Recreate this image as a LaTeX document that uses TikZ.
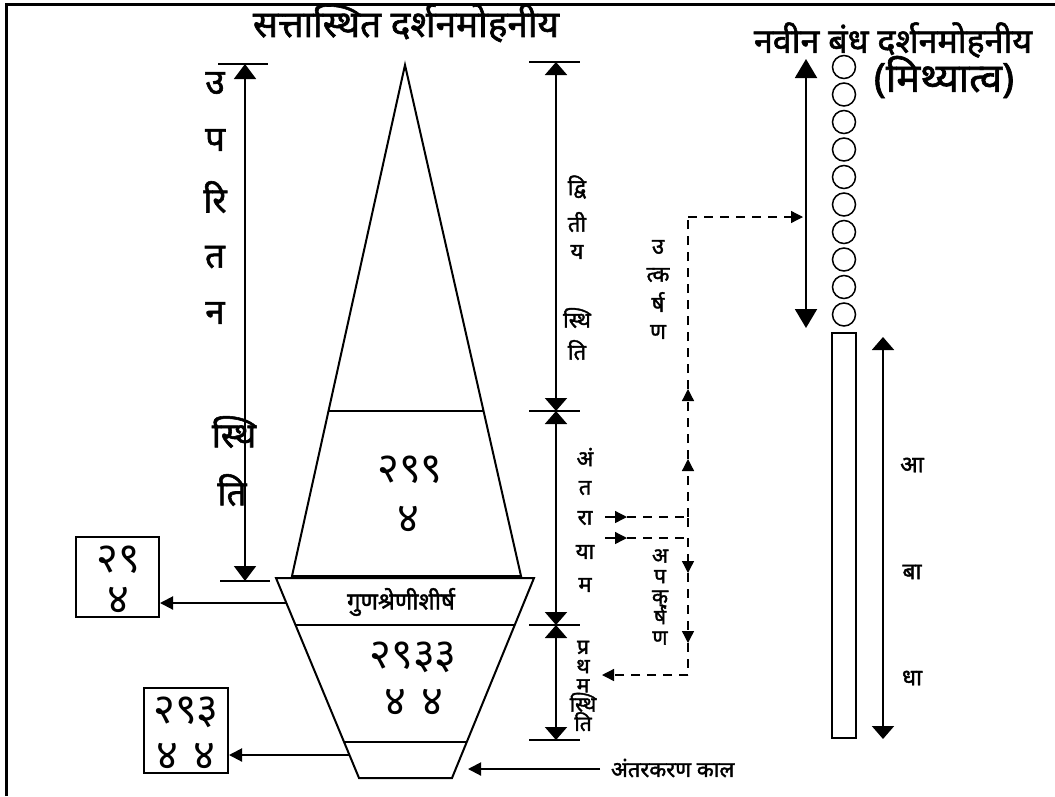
\documentclass[tikz,border=0pt]{standalone}
\usepackage{fontspec}
\newfontfamily\dev[Script=Devanagari]{Noto Sans}
\newfontfamily\devb[Script=Devanagari,FakeBold=1.6]{Noto Sans}
\newcommand\tightlines{\lineskiplimit=-100pt\relax\lineskip=0pt\relax}
\usetikzlibrary{arrows.meta,calc}
\tikzset{
  every node/.style={inner sep=0pt, font=\dev},
  dimtips/.style={{Triangle[width=22pt,length=13pt]}-{Triangle[width=22pt,length=13pt]}},
  bigtips/.style={{Triangle[width=22pt,length=19pt]}-{Triangle[width=22pt,length=19pt]}},
  smalltip/.style={-{Triangle[width=12pt,length=12pt]}},
  dsh/.style={line width=1.3pt, dash pattern=on 9pt off 7pt},
  thin1/.style={line width=1.3pt},
  bigletter/.style={font=\devb\fontsize{35}{38}\selectfont},
  midletter/.style={font=\devb\fontsize{22}{24}\selectfont},
  numtext/.style={font=\dev\fontsize{42}{46}\selectfont},
  boxnode/.style={draw, line width=2pt},
}
\begin{document}
\begin{tikzpicture}[x=1pt,y=-1pt,line width=2pt]
\useasboundingbox (0,0) rectangle (1055,796);
% frame
\draw[line width=3pt] (6,796) -- (6,4) -- (1055,4);

% titles
\node[font=\devb\fontsize{37}{40}\selectfont] (t1) at (406,23) {सत्तास्थित दर्शनमोहनीय};
\node[font=\devb\fontsize{34}{36}\selectfont] (t2) at (893,40) {नवीन बंध दर्शनमोहनीय};
\node[font=\devb\fontsize{40}{42}\selectfont] (t3) at (944,77) {(मिथ्यात्व)};

% triangle (upper cone)
\coordinate (apex) at (405,65);
\coordinate (tl) at (292,576);
\coordinate (tr) at (521,576);
\draw (apex) -- (tl) -- (tr) -- cycle;
\coordinate (m1l) at ($(apex)!{346/511}!(tl)$);
\coordinate (m1r) at ($(apex)!{346/511}!(tr)$);
\draw (m1l) -- (m1r);

% inverted trapezoid
\coordinate (q1) at (276,578);
\coordinate (q2) at (534,578);
\coordinate (q3) at (452,778);
\coordinate (q4) at (359,778);
\draw (q1) -- (q2) -- (q3) -- (q4) -- cycle;
\coordinate (g1l) at ($(q1)!{47/200}!(q4)$);
\coordinate (g1r) at ($(q2)!{47/200}!(q3)$);
\coordinate (g2l) at ($(q1)!{164/200}!(q4)$);
\coordinate (g2r) at ($(q2)!{164/200}!(q3)$);
\draw (g1l) -- (g1r);
\draw (g2l) -- (g2r);
\coordinate (a1s) at ($(q1)!{25/200}!(q4)$);
\coordinate (a2s) at ($(q1)!{177/200}!(q4)$);

% texts inside
\node[numtext] (n1) at (410,470) {२९९};
\node[numtext] (n2) at (408,519) {४};
\node[font=\devb\fontsize{24}{26}\selectfont] (gs) at (401,602) {गुणश्रेणीशीर्ष};
\node[numtext] (n3) at (413,657) {२९३३};
\node[numtext] (n4) at (414,702) {४\hspace{16pt}४};

% left boxes
\node[boxnode, minimum width=83pt, minimum height=80pt] (b1) at (117.5,577) {};
\node[align=center, font=\dev\fontsize{42}{41}\selectfont\tightlines] (b1t) at (118,580) {२९\\४};
\node[boxnode, minimum width=84pt, minimum height=85pt] (b2) at (186,730.5) {};
\node[align=center, font=\dev\fontsize{42}{46}\selectfont\tightlines] (b2t) at (186,733) {२९३\\४\hspace{16pt}४};
\draw[-{Triangle[width=13pt,length=13pt]}] (a1s) -- (b1.east |- a1s);
\draw[-{Triangle[width=13pt,length=13pt]}] (a2s) -- (b2.east |- a2s);

% left dimension
\draw (218,64) -- (268,64);
\draw (220,581) -- (270,581);
\coordinate (ld1) at (245,64);
\coordinate (ld2) at (245,581);
\draw[{Triangle[width=22pt,length=15pt]}-{Triangle[width=22pt,length=15pt]}] (ld1) -- (ld2);
\node[bigletter] (l1) at (215,83) {उ};
\node[bigletter] (l2) at (215,140) {प};
\node[bigletter] (l3) at (215,197) {रि};
\node[bigletter] (l4) at (215,257) {त};
\node[bigletter] (l5) at (215,313) {न};
\node[bigletter] (l6) at (234,432) {स्थि};
\node[bigletter] (l7) at (232,490) {ति};

% right dimension (three segments)
\foreach \yy in {62,411,625,740} \draw (529,\yy) -- (580,\yy);
\coordinate (rd1) at (556,62);
\coordinate (rd2) at (556,411);
\coordinate (rd3) at (556,625);
\coordinate (rd4) at (556,740);
\draw[dimtips] (rd1) -- (rd2);
\draw[dimtips] (rd2) -- (rd3);
\draw[dimtips] (rd3) -- (rd4);
\node[midletter] at (577,187) {द्वि};
\node[midletter] at (577,222) {ती};
\node[midletter] at (577,252) {य};
\node[midletter] at (577,318) {स्थि};
\node[midletter] at (577,350) {ति};
\node[midletter] at (585,457) {अं};
\node[midletter] at (585,488) {त};
\node[midletter] at (585,518) {रा};
\node[midletter] at (585,552) {या};
\node[midletter] at (585,585) {म};
\node[align=center, font=\devb\fontsize{21}{19.25}\selectfont\tightlines] (pst) at (583,686) {प्र\\थ\\म\\स्थि\\ति};

% utkarshan / apkarshan
\node[midletter] at (658,247) {उ};
\node[midletter] at (658,275) {त्क};
\node[midletter] at (658,302) {र्ष};
\node[midletter] at (658,332) {ण};
\node[align=center, font=\devb\fontsize{21}{20.5}\selectfont\tightlines] (apk) at (660,597) {अ\\प\\क्\\र्ष\\ण};

% dashed paths
\coordinate (s1) at (605,517);
\coordinate (s1e) at (627,517);
\coordinate (j1) at (688,517);
\coordinate (u1) at (688,459);
\coordinate (u2) at (688,389);
\coordinate (j2) at (688,217);
\coordinate (e1) at (803,217);
\draw[thin1,smalltip] (s1) -- (s1e);
\draw[dsh] (s1e) -- (j1);
\draw[dsh] (688,527) -- (j1);
\draw[dsh,smalltip] (j1) -- (u1);
\draw[dsh,smalltip] (u1) -- (u2);
\draw[dsh] (u2) -- (j2);
\draw[dsh,smalltip] (j2) -- (e1);

\coordinate (s2) at (605,538);
\coordinate (s2e) at (627,538);
\coordinate (j3) at (688,538);
\coordinate (d1) at (688,573);
\coordinate (d2) at (688,643);
\coordinate (j4) at (688,675);
\coordinate (e2) at (602,675);
\draw[thin1,smalltip] (s2) -- (s2e);
\draw[dsh] (s2e) -- (j3);
\draw[dsh,smalltip] (j3) -- (d1);
\draw[dsh,smalltip] (d1) -- (d2);
\draw[dsh] (d2) -- (j4);
\draw[dsh,smalltip] (j4) -- (e2);

% antarkaran kaal
\node[font=\devb\fontsize{22}{24}\selectfont, anchor=west] (ak) at (610,768) {अंतरकरण काल};
\coordinate (akt) at (468,769);
\draw[-{Triangle[width=13pt,length=13pt]}] (600,769) -- (akt);

% circles (new bond)
\foreach \i in {0,...,9} {
  \node[draw, line width=1.5pt, circle, minimum size=23pt] (c\i) at (844,{67+27.5*\i}) {};
}
\coordinate (ba1) at (806,59);
\coordinate (ba2) at (806,328);
\draw[bigtips] (ba1) -- (ba2);

% rectangle abadha
\node[draw, line width=2pt, minimum width=24pt, minimum height=405pt] (rect) at (844,535.5) {};
\coordinate (ab1) at (883,337);
\coordinate (ab2) at (883,739);
\draw[dimtips] (ab1) -- (ab2);
\node[font=\devb\fontsize{23}{25}\selectfont] at (912,465) {आ};
\node[font=\devb\fontsize{23}{25}\selectfont] at (912,572) {बा};
\node[font=\devb\fontsize{23}{25}\selectfont] at (912,678) {धा};
\end{tikzpicture}
\end{document}
